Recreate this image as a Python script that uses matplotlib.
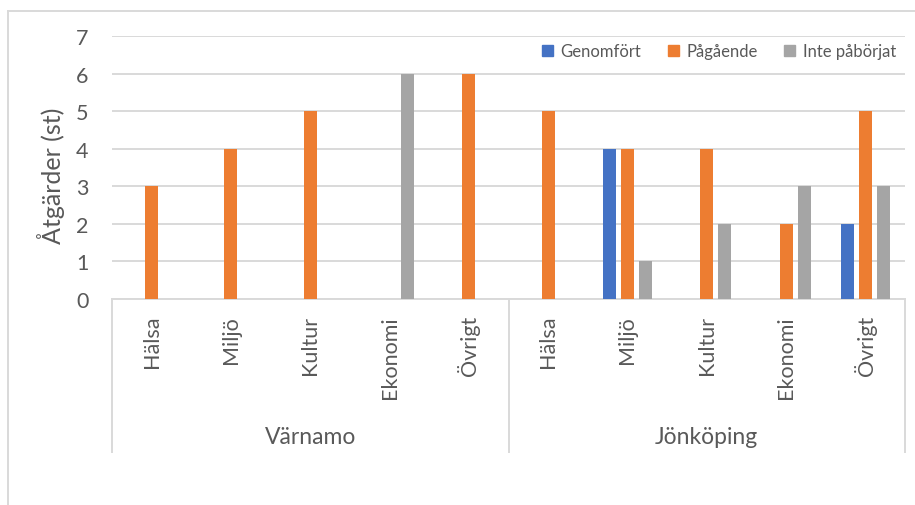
import matplotlib
matplotlib.use("Agg")
import matplotlib.pyplot as plt
from matplotlib.patches import Patch
from matplotlib.lines import Line2D
import numpy as np

# Data
groups = ["Värnamo", "Jönköping"]
categories = ["Hälsa", "Miljö", "Kultur", "Ekonomi", "Övrigt"]
series_names = ["Genomfört", "Pågående", "Inte påbörjat"]
genomfort = [0, 0, 0, 0, 0, 0, 4, 0, 0, 2]
pagaende = [3, 4, 5, 0, 6, 5, 4, 4, 2, 5]
inte_paborjat = [0, 0, 0, 6, 0, 0, 1, 2, 3, 3]
colors = ["#4472C4", "#ED7D31", "#A5A5A5"]
yticks = [0, 1, 2, 3, 4, 5, 6, 7]

TEXT = "#595959"
GRID = "#D9D9D9"
FONT = "Lato"
plt.rcParams["font.family"] = [FONT, "DejaVu Sans"]

W, H = 915, 506
fig = plt.figure(figsize=(W / 100, H / 100), dpi=100)

# chart frame (left and top edges)
fig.add_artist(Line2D([8 / W, 8 / W], [0, 1 - 12 / H], color=GRID, lw=1.4))
fig.add_artist(Line2D([8 / W, 1], [1 - 12 / H, 1 - 12 / H], color=GRID, lw=1.4))

left, right, top, bottom = 112, 905, 37, 300
ax = fig.add_axes([left / W, 1 - bottom / H, (right - left) / W, (bottom - top) / H])

n = len(groups) * len(categories)
x = np.arange(n) + 0.5
bw = 0.164
offs = [-0.227, 0.0, 0.227]
for vals, c, o, name in zip([genomfort, pagaende, inte_paborjat], colors, offs, series_names):
    ax.bar(x + o, vals, width=bw, color=c, label=name, zorder=3)

ax.set_xlim(0, n)
ax.set_ylim(0, 7)
ax.set_yticks(yticks)
ax.set_yticklabels([str(t) for t in yticks], fontsize=15.5, color=TEXT)
ax.tick_params(axis="y", length=0, pad=17)
ax.set_xticks([])
for s in ax.spines.values():
    s.set_visible(False)
ax.grid(axis="y", color=GRID, lw=1.4, zorder=0)
ax.set_axisbelow(True)

# multi-level category axis
ax_h = bottom - top
depth = -(453 - bottom) / ax_h
ax.plot([0, n], [0, 0], color=GRID, lw=1.4, clip_on=False, zorder=2,
        transform=ax.get_xaxis_transform())
for xv in [0, len(categories), n]:
    ax.plot([xv, xv], [0, depth], color=GRID, lw=1.4, clip_on=False,
            transform=ax.get_xaxis_transform())

tr = ax.get_xaxis_transform()
lab_top = -(316 - bottom) / ax_h
for i in range(n):
    ax.text(x[i], lab_top, categories[i % len(categories)], rotation=90,
            ha="center", va="top", fontsize=15.5, color=TEXT, transform=tr)
grp_y = -(438 - bottom) / ax_h
for g, name in enumerate(groups):
    xc = g * len(categories) + len(categories) / 2
    ax.text(xc, grp_y, name, ha="center", va="center", fontsize=16.5,
            color=TEXT, transform=tr)

fig.text(51 / W, 1 - 176 / H, "Åtgärder (st)", rotation=90, ha="center",
         va="center", fontsize=18, color=TEXT)

handles = [Patch(color=c) for c in colors]
fig.legend(handles, series_names, loc="center right",
           bbox_to_anchor=(896 / W, 1 - 52 / H), ncol=3, frameon=False,
           fontsize=12, handlelength=0.65, handleheight=0.65,
           handletextpad=0.45, columnspacing=1.6, labelcolor=TEXT,
           borderaxespad=0, borderpad=0)

fig.savefig("out.png", dpi=100)
